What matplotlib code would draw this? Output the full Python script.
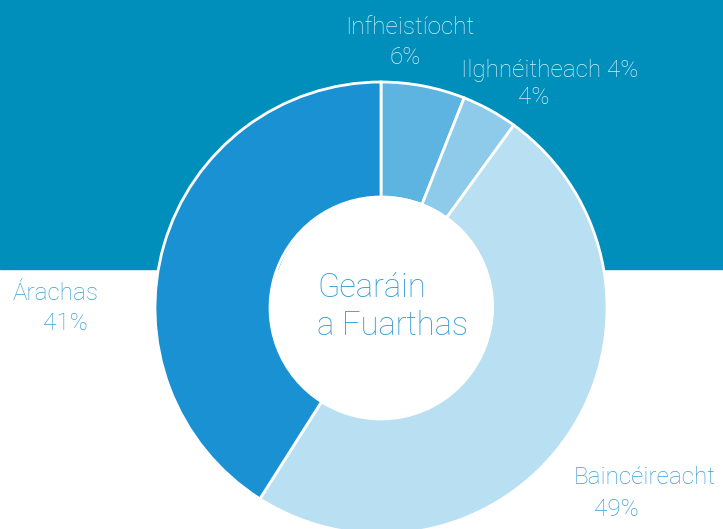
import matplotlib.pyplot as plt
from matplotlib.patches import Rectangle, Circle

labels = ['Infheistíocht', 'Ilghnéitheach', 'Baincéireacht', 'Árachas']
values = [6, 4, 49, 41]
colors = ['#5db4e0', '#8ecbea', '#b9dff2', '#1a91d2']
center_text = 'Gearáin\na Fuarthas'

W, H = 723, 529
fig = plt.figure(figsize=(W / 100, H / 100), dpi=100)
ax = fig.add_axes([0, 0, 1, 1])

# teal band behind top part
ax.add_patch(Rectangle((0, H - 269), W, 269, color='#008fba', zorder=0))

cx, cy = 381, H - 308
ax.pie(values, colors=colors, startangle=90, counterclock=False,
       center=(cx, cy), radius=226, frame=True,
       wedgeprops=dict(width=226 - 111, edgecolor='white', linewidth=2))
ax.add_patch(Circle((cx + 2, cy + 1), 111, facecolor='white', edgecolor='none', zorder=3))
ax.set_xlim(0, W)
ax.set_ylim(0, H)
ax.set_aspect('equal')
ax.axis('off')

fnt = dict(family='Roboto', weight='light')
fs = 17.5
on_teal = '#d6eef7'
on_white = '#3a9fd8'

ax.text(410, H - 28, labels[0], ha='center', va='center', fontsize=fs, color=on_teal, **fnt)
ax.text(405, H - 58, f'{values[0]}%', ha='center', va='center', fontsize=fs, color=on_teal, **fnt)
ax.text(550, H - 70, f'{labels[1]} {values[1]}%', ha='center', va='center', fontsize=fs, color=on_teal, **fnt)
ax.text(534, H - 98, f'{values[1]}%', ha='center', va='center', fontsize=fs, color=on_teal, **fnt)
ax.text(56, H - 294, labels[3], ha='center', va='center', fontsize=fs, color=on_white, **fnt)
ax.text(65, H - 323, f'{values[3]}%', ha='center', va='center', fontsize=fs, color=on_white, **fnt)
ax.text(645, H - 478, labels[2], ha='center', va='center', fontsize=fs, color=on_white, **fnt)
ax.text(616, H - 509, f'{values[2]}%', ha='center', va='center', fontsize=fs, color=on_white, **fnt)

ax.text(317, H - 307, center_text, ha='left', va='center', fontsize=23.5,
        color='#2e9ad6', linespacing=1.27, zorder=4, **fnt)

fig.savefig('out.png', dpi=100)
